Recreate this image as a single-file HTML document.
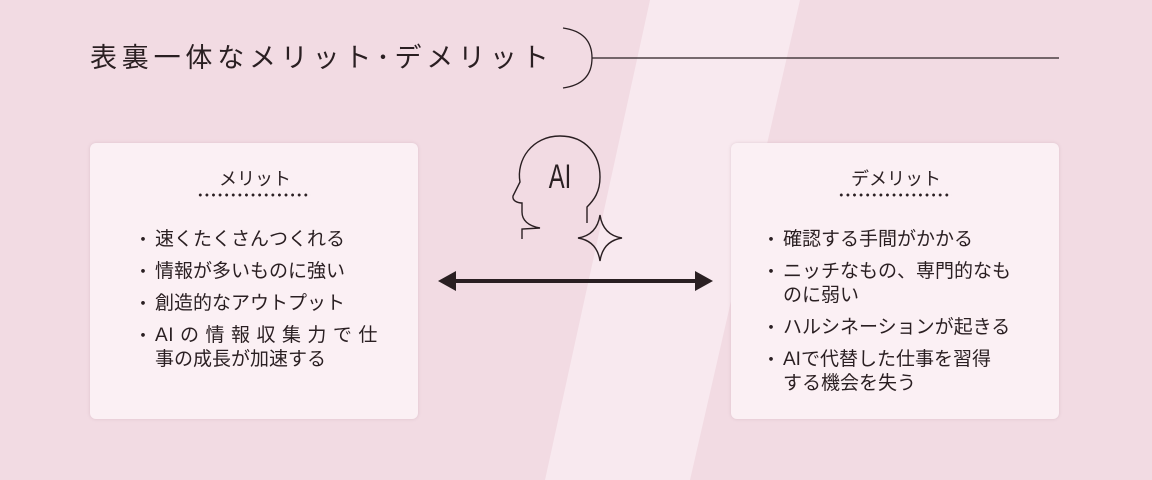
<!DOCTYPE html>
<html><head><meta charset="utf-8"><style>
*{margin:0;padding:0}
body{width:1152px;height:480px;position:relative;overflow:hidden;background:#f2dbe3;font-family:"Liberation Sans","Noto Sans CJK JP",sans-serif;color:#2a1f22}
.t{position:absolute;left:90px;top:38px;font-size:27px;letter-spacing:4.8px;white-space:nowrap;line-height:40px}
.card{position:absolute;top:143px;width:328px;height:276px;background:#fbf0f4;border-radius:6px;box-shadow:0 0 3px rgba(160,120,135,.25)}
.h{position:absolute;top:166px;font-size:18px;text-align:center;width:140px;line-height:26px}
.dots{position:absolute;top:193px;height:4px;background-image:radial-gradient(circle,#2a1f22 1.3px,transparent 1.6px);background-size:6.6px 4px}
.li{position:absolute;font-size:19px;line-height:24px;white-space:nowrap}
.b{position:absolute;font-size:18px;line-height:24px}
</style></head><body>
<svg width="1152" height="480" style="position:absolute;left:0;top:0">
<polygon points="650,0 800,0 690,480 545,480" fill="#f8e9ef"/>
<path d="M563,28 Q592,32 592,58 Q592,84 563,88" fill="none" stroke="#2a1f22" stroke-width="1.3"/>
<line x1="592" y1="58" x2="1059" y2="58" stroke="#2a1f22" stroke-width="1.2"/>
</svg>
<div class="card" style="left:90px"></div>
<div class="card" style="left:731px"></div>
<svg width="1152" height="480" style="position:absolute;left:0;top:0">
<path d="M522,239 L522,229 L540,228 C528,226 522,220 522,212 L522,203 C518,203 512,201 513,196 L520,182 C516,160 532,136 560,136 C586,136 600,155 600,177 C600,192 594,200 587,207 L587,223" fill="none" stroke="#2a1f22" stroke-width="1.4"/>
<text x="560" y="188" font-size="34" text-anchor="middle" font-family="Liberation Sans, sans-serif" fill="#2a1f22" transform="translate(560 0) scale(0.7 1) translate(-560 0)">AI</text>
<path d="M600,215 Q603,235 622,238 Q603,241 600,261 Q597,241 578,238 Q597,235 600,215 Z" fill="none" stroke="#2a1f22" stroke-width="1.4"/>
<line x1="450" y1="281" x2="700" y2="281" stroke="#2a1f22" stroke-width="4"/>
<polygon points="438,281 456,271 456,291" fill="#2a1f22"/>
<polygon points="713,281 695,271 695,291" fill="#2a1f22"/>
</svg>
<div class="t">表裏一体なメリット･デメリット</div>
<div class="h" style="left:185px">メリット</div>
<div class="dots" style="left:197px;width:114px"></div>
<div class="h" style="left:826px">デメリット</div>
<div class="dots" style="left:838px;width:114px"></div>

<div class="b" style="left:134px;top:228px">・</div><div class="li" style="left:155px;top:228px">速くたくさんつくれる</div>
<div class="b" style="left:134px;top:260px">・</div><div class="li" style="left:155px;top:260px">情報が多いものに強い</div>
<div class="b" style="left:134px;top:292px">・</div><div class="li" style="left:155px;top:292px">創造的なアウトプット</div>
<div class="b" style="left:134px;top:324px">・</div><div class="li" style="left:155px;top:324px;letter-spacing:0.6px">AI の 情 報 収 集 力 で 仕</div>
<div class="li" style="left:155px;top:348px">事の成長が加速する</div>

<div class="b" style="left:762px;top:228px">・</div><div class="li" style="left:783px;top:228px">確認する手間がかかる</div>
<div class="b" style="left:762px;top:260px">・</div><div class="li" style="left:783px;top:260px">ニッチなもの、専門的なも</div>
<div class="li" style="left:783px;top:284px">のに弱い</div>
<div class="b" style="left:762px;top:316px">・</div><div class="li" style="left:783px;top:316px">ハルシネーションが起きる</div>
<div class="b" style="left:762px;top:348px">・</div><div class="li" style="left:783px;top:348px">AIで代替した仕事を習得</div>
<div class="li" style="left:783px;top:372px">する機会を失う</div>
</body></html>
